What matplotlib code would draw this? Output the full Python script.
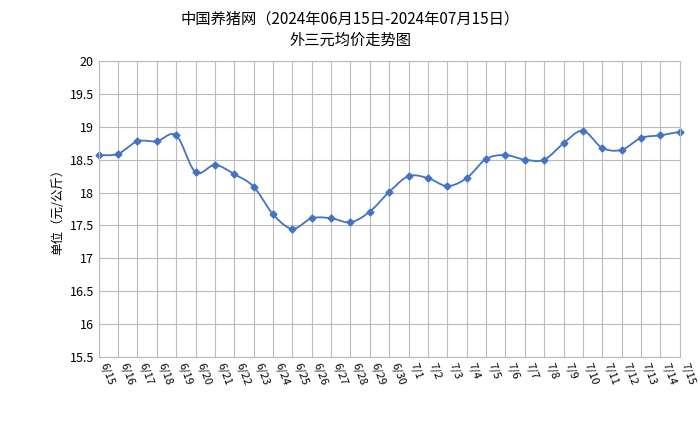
import matplotlib.pyplot as plt
import numpy as np

plt.rcParams['font.family'] = ['Noto Sans CJK SC', 'DejaVu Sans']

dates = ['6/15', '6/16', '6/17', '6/18', '6/19', '6/20', '6/21', '6/22', '6/23', '6/24',
         '6/25', '6/26', '6/27', '6/28', '6/29', '6/30', '7/1', '7/2', '7/3', '7/4',
         '7/5', '7/6', '7/7', '7/8', '7/9', '7/10', '7/11', '7/12', '7/13', '7/14', '7/15']
prices = [18.57, 18.59, 18.78, 18.78, 18.87, 18.31, 18.42, 18.28, 18.09, 17.67,
          17.45, 17.61, 17.61, 17.55, 17.71, 18.01, 18.25, 18.22, 18.10, 18.22,
          18.51, 18.57, 18.50, 18.50, 18.75, 18.94, 18.68, 18.65, 18.83, 18.87, 18.92]
y_ticks = [15.5, 16, 16.5, 17, 17.5, 18, 18.5, 19, 19.5, 20]

fig = plt.figure(figsize=(7, 4.24), dpi=100)
ax = fig.add_axes([0.141, 0.158, 0.83, 0.698])
x = np.arange(len(dates))

# smooth the line a bit (Catmull-Rom through the data points)
xs, ys = [], []
p = np.array(prices)
pp = np.concatenate([[p[0]], p, [p[-1]]])
for i in range(len(p) - 1):
    p0, p1, p2, p3 = pp[i], pp[i + 1], pp[i + 2], pp[i + 3]
    t = np.linspace(0, 1, 12, endpoint=False)
    yy = 0.5 * (2 * p1 + (-p0 + p2) * t + (2 * p0 - 5 * p1 + 4 * p2 - p3) * t**2
                + (-p0 + 3 * p1 - 3 * p2 + p3) * t**3)
    xs.extend(i + t)
    ys.extend(yy)
xs.append(x[-1]); ys.append(p[-1])
ax.plot(xs, ys, color='#4472c4', lw=1.3, clip_on=False)
ax.plot(x, prices, 'D', color='#4472c4', ms=3.5, clip_on=False)

ax.set_xlim(0, len(dates) - 1)
ax.set_ylim(15.5, 20)
ax.set_yticks(y_ticks)
ax.set_yticklabels([f'{v:g}' for v in y_ticks], fontsize=9)
ax.set_xticks(x)
ax.set_xticklabels(dates, rotation=-70, fontsize=8, ha='left')
ax.grid(True, color='#bbbbbb', lw=0.8)
ax.tick_params(length=0)
for s in ax.spines.values():
    s.set_color('#bbbbbb')
ax.set_ylabel('单位（元/公斤）', fontsize=9)
fig.text(0.5, 0.945, '中国养猪网（2024年06月15日-2024年07月15日）', ha='center', fontsize=11)
fig.text(0.5, 0.895, '外三元均价走势图', ha='center', fontsize=11)
fig.savefig('out.png')
